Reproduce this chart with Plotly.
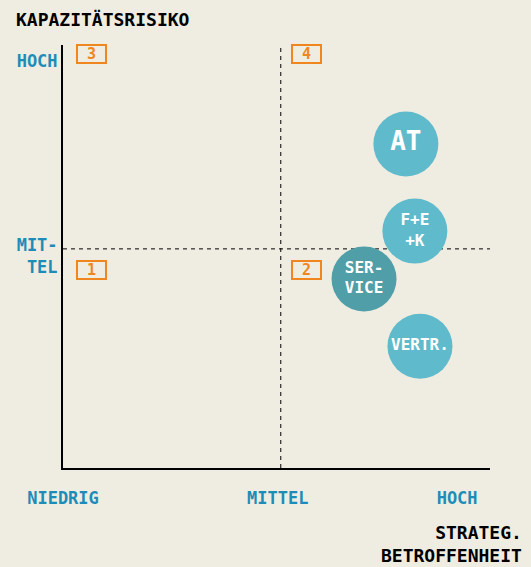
import plotly.graph_objects as go

# Daten
bereiche = ["AT", "F+E<br>+K", "SER-<br>VICE", "VERTR."]
betroffenheit = [8.03, 8.24, 7.05, 8.36]   # x: strategische Betroffenheit
kapazitaet = [7.66, 5.60, 4.47, 2.88]      # y: Kapazitätsrisiko
farben = ["#5fbbcb", "#5fbbcb", "#4f9ea8", "#5fbbcb"]
schrift = [26, 16, 16, 16]

x_tickvals = [0, 5.03, 9.23]
x_ticktext = ["NIEDRIG", "MITTEL", "HOCH"]
y_tickvals = [9.62, 5.0]
y_ticktext = ["HOCH", "MIT-<br>TEL"]

quadranten = ["1", "2", "3", "4"]
quad_x = [0.66, 5.71, 0.66, 5.71]
quad_y = [4.68, 4.68, 9.79, 9.79]

grenze_x = 5.1
grenze_y = 5.18

BG = "#efece2"
BLAU = "#1d8cb7"
ORANGE = "#f0871e"
FONT = "DejaVu Sans Mono"

fig = go.Figure()

fig.add_trace(go.Scatter(
    x=betroffenheit,
    y=kapazitaet,
    mode="markers+text",
    text=bereiche,
    textposition="middle center",
    textfont=dict(family=FONT, color="white", size=schrift, weight="bold"),
    marker=dict(size=65, color=farben, line=dict(width=0), opacity=1),
    hoverinfo="skip",
    showlegend=False,
))

# Trennlinien (gestrichelt)
fig.add_shape(type="line", x0=grenze_x, x1=grenze_x, y0=0, y1=10,
              line=dict(color="black", width=1, dash="4px,4px"), layer="below")
fig.add_shape(type="line", x0=0, x1=10, y0=grenze_y, y1=grenze_y,
              line=dict(color="black", width=1, dash="4px,4px"), layer="below")

# Quadranten-Nummern
for q, qx, qy in zip(quadranten, quad_x, quad_y):
    fig.add_annotation(
        x=qx, y=qy, text=q, showarrow=False,
        font=dict(family=FONT, color=ORANGE, size=15, weight="bold"),
        bordercolor=ORANGE, borderwidth=2, borderpad=0,
        width=27, height=16,
    )

fig.add_annotation(
    x=-0.115, y=1.061, xref="paper", yref="paper", text="KAPAZITÄTSRISIKO",
    showarrow=False, xanchor="left", yanchor="middle",
    font=dict(family=FONT, color="black", size=18, weight="bold"),
)
fig.add_annotation(
    x=1.08, y=-0.122, xref="paper", yref="paper", text="STRATEG.<br>BETROFFENHEIT",
    showarrow=False, xanchor="right", yanchor="top", align="right",
    font=dict(family=FONT, color="black", size=18, weight="bold"),
)

fig.update_layout(
    width=531, height=567,
    margin=dict(l=63, r=41, t=45, b=99),
    paper_bgcolor=BG, plot_bgcolor=BG,
    xaxis=dict(
        range=[0, 10], showgrid=False, zeroline=False,
        showline=True, linecolor="black", linewidth=2,
        tickvals=x_tickvals, ticktext=x_ticktext, ticks="",
        tickfont=dict(family=FONT, color=BLAU, size=17, weight="bold"),
        ticklabelstandoff=14,
    ),
    yaxis=dict(
        range=[0, 10], showgrid=False, zeroline=False,
        showline=True, linecolor="black", linewidth=2,
        tickvals=y_tickvals, ticktext=y_ticktext, ticks="",
        tickfont=dict(family=FONT, color=BLAU, size=17, weight="bold"),
        ticklabelstandoff=0,
    ),
)

fig.write_html("out.html", config={"displayModeBar": False},
               post_script="document.body.style.margin='0';")
